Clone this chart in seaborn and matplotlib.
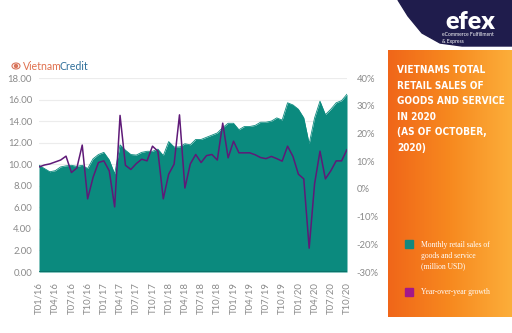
import numpy as np
import pandas as pd
import matplotlib
matplotlib.use("Agg")
import matplotlib.pyplot as plt
import seaborn as sns
from matplotlib.patches import Polygon, Ellipse, Rectangle
from matplotlib.colors import LinearSegmentedColormap

# ---------------- data ----------------
tick_labels = ["T01/16", "T04/16", "T07/16", "T10/16", "T01/17", "T04/17", "T07/17",
               "T10/17", "T01/18", "T04/18", "T07/18", "T10/18", "T01/19", "T04/19",
               "T07/19", "T10/19", "T01/20", "T04/20", "T07/20", "T10/20"]

retail_sales = [9.9, 9.6, 9.3, 9.4, 9.75, 9.85, 9.9, 9.8, 9.9, 9.6,
                10.5, 10.9, 11.1, 10.4, 9.1, 11.8, 11.3, 10.9, 10.85, 11.1,
                11.2, 11.2, 11.4, 10.8, 12.1, 11.6, 11.6, 11.9, 11.8, 12.3,
                12.3, 12.5, 12.7, 12.9, 13.4, 13.8, 13.8, 13.2, 13.5, 13.5,
                13.6, 13.9, 13.9, 14.0, 14.3, 14.1, 15.7, 15.5, 15.1, 14.3,
                11.9, 14.3, 15.85, 14.6, 15.1, 15.7, 15.9, 16.5]

yoy_growth = [7.9, 8.6, 9.0, 9.7, 10.4, 11.8, 5.9, 7.5, 15.8, -3.6,
              4.1, 9.5, 10.1, 6.5, -6.5, 26.5, 8.5, 7.0, 9.1, 10.7,
              10.1, 15.4, 13.6, -3.6, 5.3, 8.9, 26.7, 0.3, 9.0, 12.4,
              9.5, 12.0, 12.4, 10.4, 23.7, 11.2, 17.2, 13.0, 13.0, 13.0,
              12.3, 11.3, 10.9, 11.7, 10.9, 10.0, 15.4, 11.7, 5.3, 3.6,
              -21.4, 1.8, 13.6, 3.6, 6.5, 10.1, 10.1, 14.2]

sales_ticks = [0, 2, 4, 6, 8, 10, 12, 14, 16, 18]
growth_ticks = [-30, -20, -10, 0, 10, 20, 30, 40]

title_lines = ["VIETNAMS TOTAL", "RETAIL SALES OF", "GOODS AND SERVICE",
               "IN 2020", "(AS OF OCTOBER,", "2020)"]
legend_sales = "Monthly retail sales of\ngoods and service\n(million USD)"
legend_growth = "Year-over-year growth"

# ---------------- style ----------------
sns.set_style("white")
plt.rcParams['font.family'] = ['Lato', 'DejaVu Sans']

TEAL = "#0b8a7e"
PURPLE = "#5f1a78"
GRAY = "#8a8a8a"

W, H = 512, 333
fig = plt.figure(figsize=(W / 100, H / 100), dpi=100)

df = pd.DataFrame({"idx": np.arange(len(retail_sales)),
                   "sales": retail_sales, "growth": yoy_growth})

ax = fig.add_axes([39 / W, 1 - 272 / H, (347 - 39) / W, (272 - 78) / H])
ax.fill_between(df["idx"], df["sales"], 0, color=TEAL, lw=0, zorder=2)
sns.lineplot(data=df, x="idx", y="sales", ax=ax, color=TEAL, lw=0.6, zorder=2)
ax.axhline(0, color="#0a6f66", lw=1.2, zorder=3)
ax.set_xlim(0, len(retail_sales) - 1)
ax.set_ylim(0, 18)
ax.set_yticks(sales_ticks)
ax.set_yticklabels([f"{v:.2f}" for v in sales_ticks])
ax.set_xticks(np.arange(0, len(retail_sales), 3))
ax.set_xticklabels(tick_labels, rotation=90)
ax.grid(axis="y", color="#ececec", lw=0.8)
ax.set_axisbelow(True)
ax.set_xlabel("")
ax.set_ylabel("")
ax.tick_params(axis="y", length=0, pad=5, labelsize=6.8, labelcolor=GRAY)
ax.tick_params(axis="x", length=0, pad=7, labelsize=6.8, labelcolor=GRAY)
for s in ax.spines.values():
    s.set_visible(False)

ax2 = ax.twinx()
sns.lineplot(data=df, x="idx", y="growth", ax=ax2, color=PURPLE, lw=1.1)
ax2.set_ylim(-30, 40)
ax2.set_yticks(growth_ticks)
ax2.set_yticklabels([f"{v}%" for v in growth_ticks])
ax2.set_ylabel("")
ax2.tick_params(axis="y", length=0, pad=7, labelsize=6.8, labelcolor=GRAY)
for s in ax2.spines.values():
    s.set_visible(False)

# ---------------- right orange panel ----------------
pax = fig.add_axes([388 / W, 1 - 317 / H, (W - 388) / W, (317 - 50) / H])
grad = np.linspace(0, 1, 256).reshape(1, -1)
cmap = LinearSegmentedColormap.from_list("og", ["#f06619", "#f7891f", "#fcae3a"])
pax.imshow(grad, aspect="auto", cmap=cmap, extent=[0, 1, 0, 1])
pax.set_xlim(0, 1)
pax.set_ylim(0, 1)
pax.axis("off")

# title lines, fitted so the widest line spans ~106 px
renderer = fig.canvas.get_renderer()
title_objs = []
base_fs = 10.0
line_y = [70, 86, 101, 117, 132, 148]
for txt, yy in zip(title_lines, line_y):
    t = fig.text(397 / W, 1 - yy / H, txt, color="white", fontsize=base_fs,
                 fontweight="bold", fontstretch="condensed",
                 family=["DejaVu Sans"], va="center", ha="left")
    title_objs.append(t)
widest = max(t.get_window_extent(renderer).width for t in title_objs)
fs = min(11.0, base_fs * 107.0 / widest)
for t in title_objs:
    t.set_fontsize(fs)

fig.patches.append(Rectangle((405 / W, 1 - 248 / H), 8 / W, 8 / H,
                             transform=fig.transFigure, color="#13887d"))
fig.text(421 / W, 1 - 241 / H, legend_sales, color="white", fontsize=5.5,
         family=["Liberation Serif", "DejaVu Serif"], va="top", ha="left",
         linespacing=1.45)
fig.patches.append(Rectangle((405 / W, 1 - 296 / H), 8 / W, 8 / H,
                             transform=fig.transFigure, color="#a3188a"))
fig.text(421 / W, 1 - 292 / H, legend_growth, color="white", fontsize=5.5,
         family=["Liberation Serif", "DejaVu Serif"], va="center", ha="left")

# ---------------- efex logo ----------------
pts = [(398, 0), (512, 0), (512, 46), (462, 46), (440, 43), (422, 33), (408, 16)]
fig.patches.append(Polygon([(x / W, 1 - y / H) for x, y in pts], closed=True,
                           transform=fig.transFigure, color="#1f1c4c"))
fig.text(470 / W, 1 - 22 / H, "efex", color="white", fontsize=18,
         fontweight="heavy", family=["Lato", "DejaVu Sans"], ha="center", va="center")
fig.text(442 / W, 1 - 34 / H, "eCommerce Fulfillment", color="white", fontsize=3.6,
         ha="left", va="center")
fig.text(442 / W, 1 - 41 / H, "& Express", color="white", fontsize=3.6,
         ha="left", va="center")

# ---------------- VietnamCredit logo ----------------
fig.patches.append(Ellipse((16 / W, 1 - 66 / H), 8 / W, 6 / H, transform=fig.transFigure,
                           fill=False, ec="#d9745a", lw=0.8))
fig.patches.append(Ellipse((16 / W, 1 - 66 / H), 3 / W, 3 / H, transform=fig.transFigure,
                           color="#d9745a"))
fig.text(23 / W, 1 - 66 / H, "Vietnam", color="#e0714f", fontsize=7.6, ha="left", va="center")
fig.text(59 / W, 1 - 66 / H, "Credit", color="#2f6f9a", fontsize=7.6, ha="left", va="center")

fig.savefig("out.png", dpi=100)
